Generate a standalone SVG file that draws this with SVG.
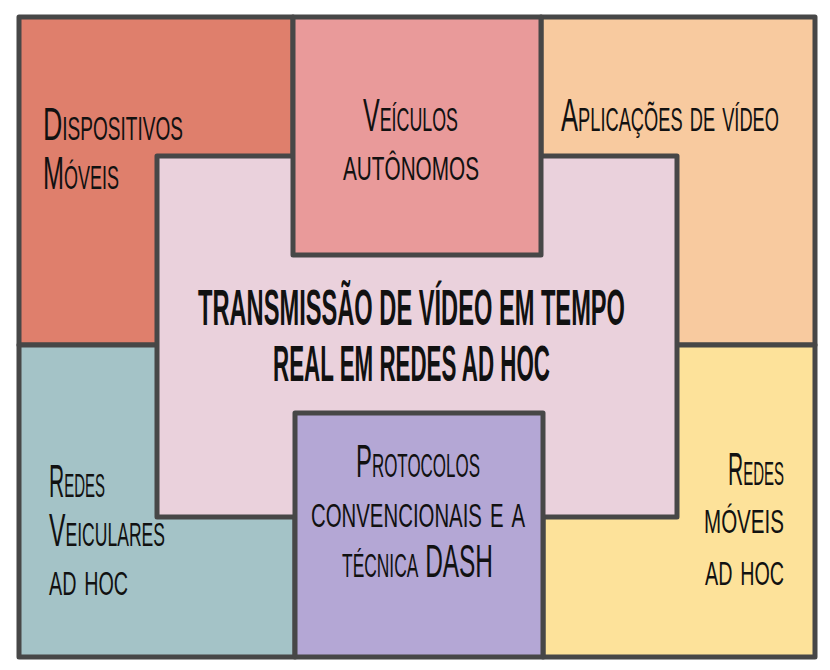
<svg xmlns="http://www.w3.org/2000/svg" width="830" height="670" viewBox="0 0 830 670">
<style>
.box{stroke:#474747;stroke-width:5;stroke-linejoin:round}
.t{font-family:"Liberation Sans","DejaVu Sans",sans-serif;font-size:46px;font-variant:small-caps;fill:#111}
.title{font-family:"Liberation Sans","DejaVu Sans",sans-serif;font-size:50px;font-weight:bold;fill:#111}
</style>
<rect width="830" height="670" fill="#fff"/>
<g id="dispositivos">
<rect class="box" x="19" y="17" width="274" height="328" fill="#DF7F6C"/>
<text class="t" transform="translate(43,140) scale(0.6,1)" textLength="233.3" lengthAdjust="spacingAndGlyphs">Dispositivos</text>
<text class="t" transform="translate(43,189) scale(0.6,1)" textLength="126.7" lengthAdjust="spacingAndGlyphs">Móveis</text>
</g>
<g id="aplicacoes">
<rect class="box" x="541" y="17" width="274" height="328" fill="#F8CA9F"/>
<text class="t" transform="translate(561,131) scale(0.6,1)" textLength="363.3" lengthAdjust="spacingAndGlyphs">Aplicações de vídeo</text>
</g>
<g id="redes-veiculares">
<rect class="box" x="19" y="345" width="276" height="312" fill="#A4C3C7"/>
</g>
<g id="redes-moveis">
<rect class="box" x="543" y="345" width="272" height="312" fill="#FDE29A"/>
<text class="t" transform="translate(728,485) scale(0.6,1)" textLength="93.3" lengthAdjust="spacingAndGlyphs">Redes</text>
<text class="t" transform="translate(704,533) scale(0.6,1)" textLength="133.3" lengthAdjust="spacingAndGlyphs">móveis</text>
<text class="t" transform="translate(705,585) scale(0.6,1)" textLength="131.7" lengthAdjust="spacingAndGlyphs">ad hoc</text>
</g>
<g id="centro">
<rect class="box" x="157" y="156" width="520" height="361" fill="#EAD1DC"/>
<text class="title" transform="translate(198,325) scale(0.48,1)" textLength="889.6" lengthAdjust="spacingAndGlyphs">TRANSMISSÃO DE VÍDEO EM TEMPO</text>
<text class="title" transform="translate(273,381) scale(0.48,1)" textLength="577.1" lengthAdjust="spacingAndGlyphs">REAL EM REDES AD HOC</text>
</g>
<g id="veiculares-texto">
<text class="t" transform="translate(49,497) scale(0.6,1)" textLength="93.3" lengthAdjust="spacingAndGlyphs">Redes</text>
<text class="t" transform="translate(49,546) scale(0.6,1)" textLength="193.3" lengthAdjust="spacingAndGlyphs">Veiculares</text>
<text class="t" transform="translate(49,595) scale(0.6,1)" textLength="131.7" lengthAdjust="spacingAndGlyphs">ad hoc</text>
</g>
<g id="veiculos">
<rect class="box" x="293" y="17" width="248" height="238" fill="#E99A9A"/>
<text class="t" transform="translate(363,131) scale(0.6,1)" textLength="158.3" lengthAdjust="spacingAndGlyphs">Veículos</text>
<text class="t" transform="translate(343,180) scale(0.6,1)" textLength="226.7" lengthAdjust="spacingAndGlyphs">autônomos</text>
</g>
<g id="protocolos">
<rect class="box" x="295" y="413" width="248" height="244" fill="#B4A7D5"/>
<text class="t" transform="translate(356,477) scale(0.6,1)" textLength="206.7" lengthAdjust="spacingAndGlyphs">Protocolos</text>
<text class="t" transform="translate(311,527) scale(0.6,1)" textLength="356.7" lengthAdjust="spacingAndGlyphs">convencionais e a</text>
<text class="t" transform="translate(342,577) scale(0.6,1)" textLength="251.7" lengthAdjust="spacingAndGlyphs">técnica DASH</text>
</g>
<g id="connectors"></g>
</svg>
